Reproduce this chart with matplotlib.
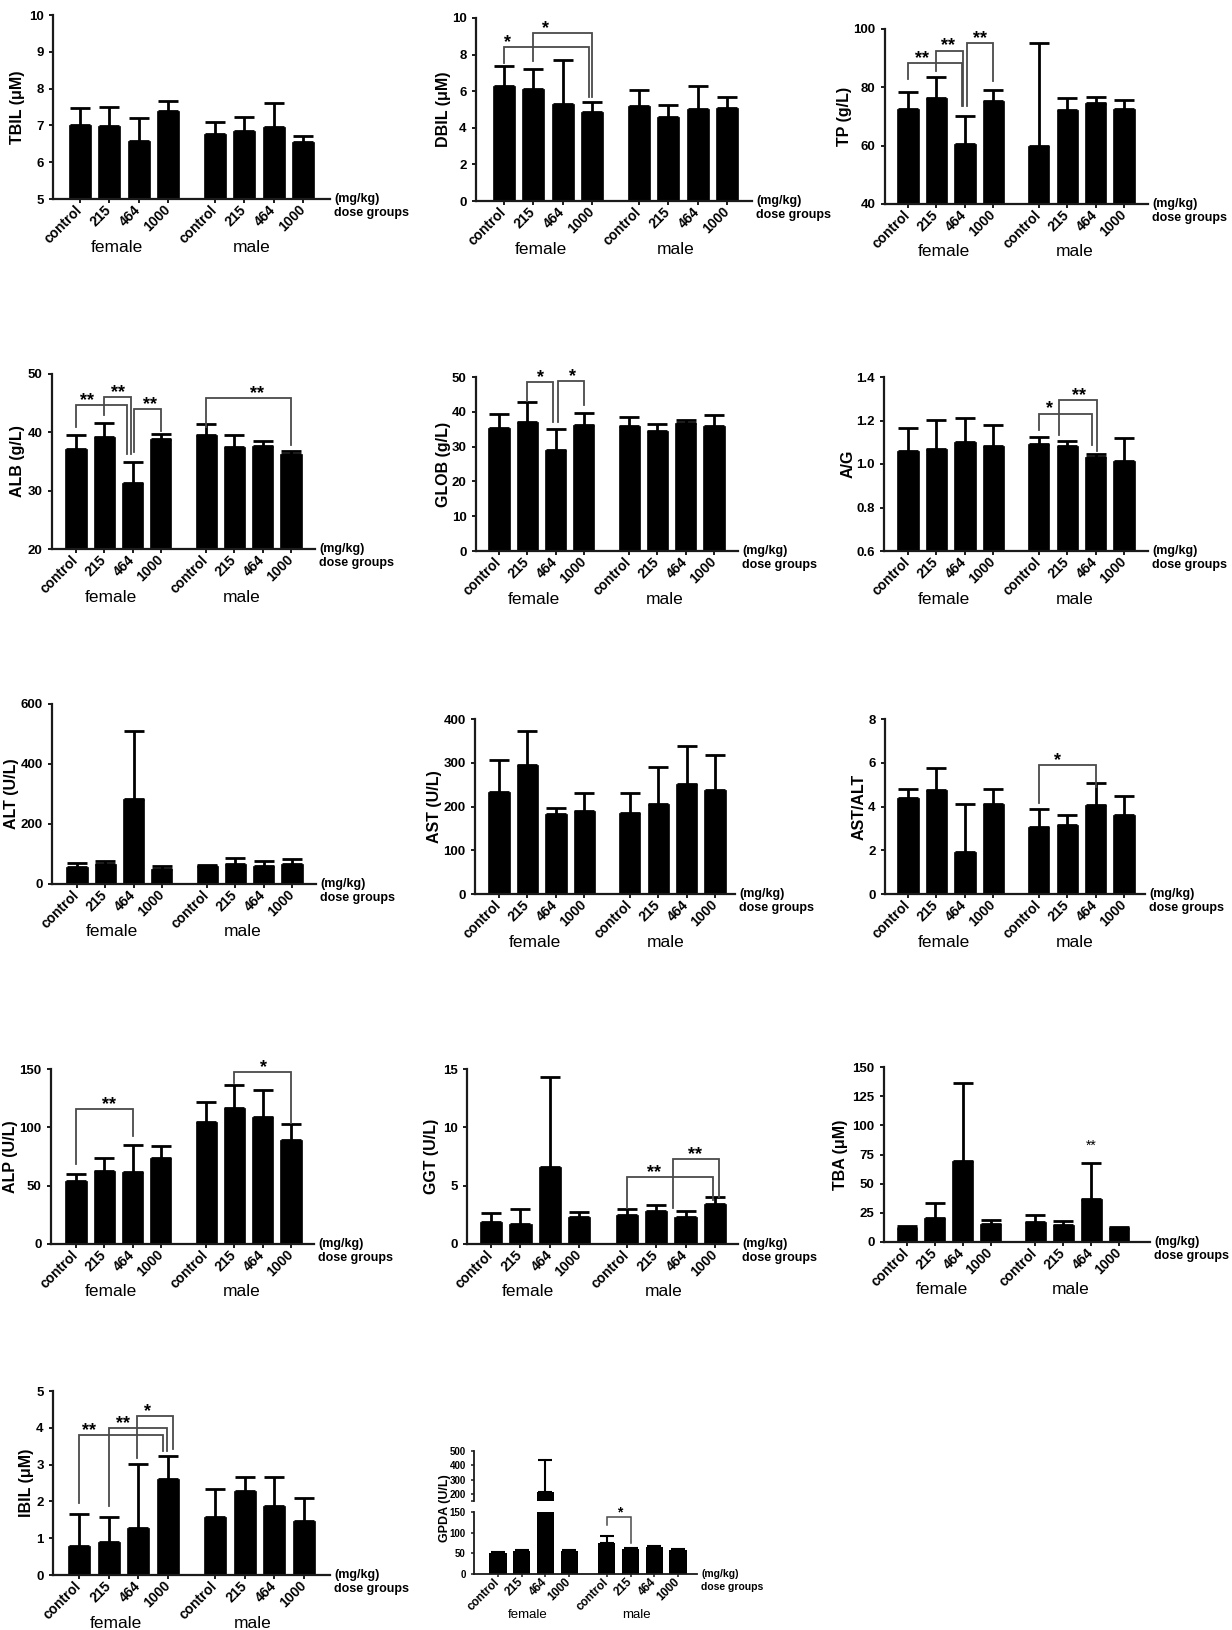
import matplotlib
matplotlib.use('Agg')
import matplotlib.pyplot as plt
import numpy as np

plt.rcParams['font.family'] = ['Liberation Sans', 'DejaVu Sans']

W, H = 1232, 1630
fig = plt.figure(figsize=(W / 100, H / 100), dpi=100)

# ---------------- data ----------------
groups = ['control', '215', '464', '1000']
sexes = ['female', 'male']
pos = [0, 1, 2, 3, 4.6, 5.6, 6.6, 7.6]

tbil_f = [7.01, 6.98, 6.58, 7.38]; tbil_f_sd = [0.46, 0.52, 0.62, 0.29]
tbil_m = [6.77, 6.84, 6.95, 6.54]; tbil_m_sd = [0.31, 0.39, 0.66, 0.16]
dbil_f = [6.26, 6.11, 5.31, 4.84]; dbil_f_sd = [1.09, 1.12, 2.41, 0.56]
dbil_m = [5.20, 4.58, 5.05, 5.09]; dbil_m_sd = [0.88, 0.69, 1.25, 0.62]
tp_f = [72.6, 76.5, 60.6, 75.3]; tp_f_sd = [5.7, 7.2, 9.7, 3.7]
tp_m = [60.0, 72.2, 74.5, 72.5]; tp_m_sd = [35.3, 4.0, 2.1, 3.2]
alb_f = [37.2, 39.2, 31.4, 38.9]; alb_f_sd = [2.3, 2.4, 3.6, 0.8]
alb_m = [39.5, 37.5, 37.7, 36.3]; alb_m_sd = [1.9, 2.0, 0.9, 0.5]
glob_f = [35.3, 37.2, 28.9, 36.3]; glob_f_sd = [4.1, 5.5, 6.2, 3.3]
glob_m = [36.0, 34.6, 36.8, 35.8]; glob_m_sd = [2.4, 2.0, 0.9, 3.4]
ag_f = [1.060, 1.071, 1.099, 1.083]; ag_f_sd = [0.106, 0.133, 0.114, 0.095]
ag_m = [1.094, 1.082, 1.030, 1.013]; ag_m_sd = [0.028, 0.023, 0.014, 0.107]
alt_f = [55.6, 65.6, 283.0, 49.0]; alt_f_sd = [13.4, 11.1, 227.0, 11.0]
alt_m = [61.0, 66.7, 61.0, 66.7]; alt_m_sd = [2.0, 21.3, 15.7, 16.3]
ast_f = [232.8, 295.4, 183.2, 190.0]; ast_f_sd = [72.5, 77.9, 13.0, 42.0]
ast_m = [184.7, 206.0, 252.0, 236.6]; ast_m_sd = [47.3, 83.3, 87.0, 81.7]
astalt_f = [4.38, 4.76, 1.91, 4.12]; astalt_f_sd = [0.41, 1.00, 2.21, 0.67]
astalt_m = [3.08, 3.16, 4.05, 3.62]; astalt_m_sd = [0.80, 0.46, 1.02, 0.88]
alp_f = [53.6, 62.2, 61.3, 74.1]; alp_f_sd = [6.3, 11.7, 23.7, 10.0]
alp_m = [104.9, 116.3, 109.2, 89.2]; alp_m_sd = [17.1, 20.0, 22.8, 13.7]
ggt_f = [1.90, 1.74, 6.64, 2.28]; ggt_f_sd = [0.75, 1.26, 7.66, 0.46]
ggt_m = [2.50, 2.85, 2.31, 3.42]; ggt_m_sd = [0.50, 0.49, 0.54, 0.58]
tba_f = [12.0, 20.9, 69.1, 15.7]; tba_f_sd = [1.4, 12.8, 67.2, 2.9]
tba_m = [17.1, 14.3, 37.1, 12.0]; tba_m_sd = [5.8, 3.4, 30.9, 0.9]
ibil_f = [0.80, 0.89, 1.27, 2.60]; ibil_f_sd = [0.85, 0.69, 1.74, 0.64]
ibil_m = [1.58, 2.28, 1.88, 1.46]; ibil_m_sd = [0.75, 0.39, 0.79, 0.64]
gpda_f = [51, 55, 215, 55]; gpda_f_sd = [2, 3, 222, 2]
gpda_m = [75, 60, 66, 58]; gpda_m_sd = [18, 2, 2, 3]

ticks_tbil = [5, 6, 7, 8, 9, 10]
ticks_dbil = [0, 2, 4, 6, 8, 10]
ticks_tp = [40, 60, 80, 100]
ticks_alb = [20, 30, 40, 50]
ticks_glob = [0, 10, 20, 30, 40, 50]
ticks_ag = [0.6, 0.8, 1.0, 1.2, 1.4]; ticklab_ag = ['0.6', '0.8', '1.0', '1.2', '1.4']
ticks_alt = [0, 200, 400, 600]
ticks_ast = [0, 100, 200, 300, 400]
ticks_astalt = [0, 2, 4, 6, 8]
ticks_alp = [0, 50, 100, 150]
ticks_ggt = [0, 5, 10, 15]
ticks_tba = [0, 25, 50, 75, 100, 125, 150]
ticks_ibil = [0, 1, 2, 3, 4, 5]
ticks_gpda_lo = [0, 50, 100, 150]
ticks_gpda_hi = [200, 300, 400, 500]

# significance brackets: (i1, i2, y_top, y_leg1, y_leg2, label, label_x, dx1, dx2)
br_dbil = [(0, 3, 8.39, 7.54, 5.7, '*', 0.13, 0.0, -0.12),
           (1, 3, 9.18, 7.63, 5.7, '*', 1.40, 0.0, 0.0)]
br_tp = [(0, 2, 88.2, 82.7, 73.6, '**', 0.49, 0.0, -0.11),
         (1, 2, 92.6, 85.7, 73.6, '**', 1.41, 0.0, -0.05),
         (2, 3, 95.3, 73.6, 82.0, '**', 2.53, 0.06, 0.0)]
br_alb = [(0, 2, 44.6, 40.9, 36.2, '**', 0.39, 0.0, -0.2),
          (1, 2, 46.0, 43.0, 36.2, '**', 1.48, 0.0, -0.07),
          (2, 3, 44.0, 36.7, 40.3, '**', 2.62, 0.05, 0.0),
          (4, 7, 45.9, 40.9, 37.9, '**', 6.40, 0.0, 0.0)]
br_glob = [(1, 2, 48.6, 43.0, 37.2, '*', 1.48, 0.0, -0.08),
           (2, 3, 48.8, 37.2, 42.0, '*', 2.59, 0.10, 0.0)]
br_ag = [(4, 6, 1.232, 1.158, 1.086, '*', 4.97, 0.0, -0.14),
         (5, 6, 1.296, 1.132, 1.059, '**', 6.00, -0.28, 0.04)]
br_astalt = [(4, 6, 5.91, 4.15, 4.9, '*', 5.27, 0.0, 0.0)]
br_alp = [(0, 2, 115.8, 68.7, 92.7, '**', 1.15, 0.0, 0.0),
          (5, 7, 147.7, 137.8, 104.0, '*', 6.64, 0.0, 0.0)]
br_ggt = [(4, 7, 5.73, 3.08, 3.8, '**', 5.52, 0.0, -0.06),
          (6, 7, 7.27, 3.08, 4.0, '**', 6.93, -0.42, 0.13)]
br_ibil = [(0, 3, 3.80, 1.97, 3.37, '**', 0.35, 0.0, -0.15),
           (1, 3, 4.00, 1.87, 3.37, '**', 1.47, 0.0, -0.04),
           (2, 3, 4.31, 3.19, 3.42, '*', 2.32, -0.05, 0.16)]
br_gpda = [(4, 5, 138, 118, 75, '*', 5.15, 0.0, 0.0)]

# ---------------- helpers ----------------
LINE = '#1a1a1a'
BR = '#4a4a4a'


def add_axes_px(l, t, r, b):
    return fig.add_axes([l / W, 1 - b / H, (r - l) / W, (b - t) / H])


def style_axes(ax, fs):
    for s in ['top', 'right']:
        ax.spines[s].set_visible(False)
    for s in ['left', 'bottom']:
        ax.spines[s].set_linewidth(1.6)
        ax.spines[s].set_color(LINE)
    ax.tick_params(axis='both', direction='out', length=3.2, width=1.4, color=LINE,
                   labelsize=fs)


def draw_bars(ax, means, sds, width, cap, lw):
    ax.bar(pos, means, width=width, color='black', edgecolor='black', linewidth=0.5, zorder=2)
    ax.errorbar(pos, means, yerr=[np.zeros(len(sds)), sds], fmt='none', ecolor='black',
                elinewidth=lw, capsize=cap, capthick=lw, zorder=3, clip_on=False)


def draw_brackets(ax, brs, fs, lw=1.3):
    for (i1, i2, yt, y1, y2, lab, sx, dx1, dx2) in brs:
        x1 = pos[i1] + dx1
        x2 = pos[i2] + dx2
        ax.plot([x1, x1, x2, x2], [y1, yt, yt, y2], color=BR, lw=lw, clip_on=False,
                zorder=4, solid_joinstyle='miter')
        ax.annotate(lab, xy=(sx, yt), xytext=(0, 0), textcoords='offset pixels',
                    ha='center', va='baseline', fontsize=fs, fontweight='bold')


def xaxis_labels(ax, fs_tick, fs_sex, fs_unit, sex_off, unit_dy, pad):
    ax.set_xticks(pos)
    ax.set_xticklabels(groups + groups, rotation=45, ha='right', va='center',
                       rotation_mode='anchor', fontsize=fs_tick, fontweight='bold')
    ax.tick_params(axis='x', pad=pad)
    fmean = np.mean(pos[:4]) - 0.25
    mmean = np.mean(pos[4:]) - 0.25
    for xm, s in [(fmean, sexes[0]), (mmean, sexes[1])]:
        ax.annotate(s, xy=(xm, 0), xycoords=('data', 'axes fraction'), xytext=(0, -sex_off),
                    textcoords='offset pixels', ha='center', va='center', fontsize=fs_sex)
    ax.annotate('(mg/kg)', xy=(1, 0), xycoords='axes fraction', xytext=(4, 0),
                textcoords='offset pixels', ha='left', va='center', fontsize=fs_unit,
                fontweight='bold')
    ax.annotate('dose groups', xy=(1, 0), xycoords='axes fraction', xytext=(4, -unit_dy),
                textcoords='offset pixels', ha='left', va='center', fontsize=fs_unit,
                fontweight='bold')


def panel(rect, bars_px, ylim, yticks, ylabel, fm, fsd, mm, msd, brs=(), ticklabels=None,
          label_px=None):
    l, t, r, b = rect
    ax = add_axes_px(l, t, r, b)
    p0, p7 = bars_px
    sp = (p7 - p0) / pos[-1]
    ax.set_xlim((l - p0) / sp, (r - p0) / sp)
    ax.set_ylim(ylim)
    style_axes(ax, 9.5)
    draw_bars(ax, fm + mm, fsd + msd, 0.75, 7.5, 2.0)
    ax.set_yticks(yticks)
    if ticklabels is not None:
        ax.set_yticklabels(ticklabels)
    for lab in ax.get_yticklabels():
        lab.set_fontweight('bold')
    ax.set_ylabel(ylabel, fontsize=11.5, fontweight='bold', labelpad=3)
    if label_px is not None:
        ax.yaxis.set_label_coords((label_px + 9 - l) / (r - l), 0.5)
    xaxis_labels(ax, 10, 12.5, 9, 48, 14, 3)
    draw_brackets(ax, brs, 13)
    return ax


# ---------------- panels ----------------
panel((53, 15, 330, 199), (80, 303), (5, 10), ticks_tbil, 'TBIL (μM)',
      tbil_f, tbil_f_sd, tbil_m, tbil_m_sd, label_px=16)
panel((476, 18, 752, 201), (504, 727), (0, 10), ticks_dbil, 'DBIL (μM)',
      dbil_f, dbil_f_sd, dbil_m, dbil_m_sd, br_dbil, label_px=442)
panel((885, 29, 1148, 204), (908, 1124), (40, 100), ticks_tp, 'TP (g/L)',
      tp_f, tp_f_sd, tp_m, tp_m_sd, br_tp, label_px=843)

panel((52, 374, 315, 549), (76, 291), (20, 50), ticks_alb, 'ALB (g/L)',
      alb_f, alb_f_sd, alb_m, alb_m_sd, br_alb, label_px=16)
panel((476, 377, 738, 551), (499, 714), (0, 50), ticks_glob, 'GLOB (g/L)',
      glob_f, glob_f_sd, glob_m, glob_m_sd, br_glob, label_px=442)
panel((884, 377, 1148, 551), (908, 1124), (0.6, 1.4), ticks_ag, 'A/G',
      ag_f, ag_f_sd, ag_m, ag_m_sd, br_ag, ticklabels=ticklab_ag, label_px=847)

panel((52, 704, 316, 884), (77, 292), (0, 600), ticks_alt, 'ALT (U/L)',
      alt_f, alt_f_sd, alt_m, alt_m_sd, label_px=10)
panel((475, 719, 735, 894), (499, 715), (0, 400), ticks_ast, 'AST (U/L)',
      ast_f, ast_f_sd, ast_m, ast_m_sd, label_px=433)
panel((885, 719, 1145, 894), (908, 1124), (0, 8), ticks_astalt, 'AST/ALT',
      astalt_f, astalt_f_sd, astalt_m, astalt_m_sd, br_astalt, label_px=858)

panel((51, 1069, 314, 1244), (76, 291), (0, 150), ticks_alp, 'ALP (U/L)',
      alp_f, alp_f_sd, alp_m, alp_m_sd, br_alp, label_px=9)
panel((467, 1069, 738, 1244), (491, 715), (0, 15), ticks_ggt, 'GGT (U/L)',
      ggt_f, ggt_f_sd, ggt_m, ggt_m_sd, br_ggt)
ax_tba = panel((884, 1067, 1150, 1242), (907, 1119), (0, 150), ticks_tba, 'TBA (μM)',
               tba_f, tba_f_sd, tba_m, tba_m_sd)
ax_tba.annotate('**', xy=(pos[6], 79), ha='center', va='baseline', fontsize=10)

panel((53, 1391, 330, 1575), (79, 304), (0, 5), ticks_ibil, 'IBIL (μM)',
      ibil_f, ibil_f_sd, ibil_m, ibil_m_sd, br_ibil, label_px=25)

# ---- GPDA broken axis ----
l, r = 474, 697
p0, p7 = 498, 678
sp = (p7 - p0) / pos[-1]
xl = ((l - p0) / sp, (r - p0) / sp)
ax_lo = add_axes_px(l, 1512, r, 1574)
ax_hi = add_axes_px(l, 1451, r, 1501)
means = gpda_f + gpda_m
sds = gpda_f_sd + gpda_m_sd
for ax, yl, yt in [(ax_lo, (0, 150), ticks_gpda_lo), (ax_hi, (150, 500), ticks_gpda_hi)]:
    ax.set_xlim(xl)
    ax.set_ylim(yl)
    style_axes(ax, 7)
    ax.spines['left'].set_linewidth(1.3)
    ax.spines['bottom'].set_linewidth(1.3)
    ax.tick_params(length=2.5, width=1.1)
    ax.bar(pos, means, width=0.72, color='black', zorder=2)
    ax.set_yticks(yt)
    for lab in ax.get_yticklabels():
        lab.set_fontweight('bold')
ax_lo.errorbar(pos, means, yerr=[np.zeros(8), sds], fmt='none', ecolor='black',
               elinewidth=1.5, capsize=5, capthick=1.5, zorder=3)
ax_hi.errorbar(pos, means, yerr=[np.zeros(8), sds], fmt='none', ecolor='black',
               elinewidth=1.5, capsize=5, capthick=1.5, zorder=3)
ax_hi.spines['bottom'].set_visible(False)
ax_hi.set_xticks([])
ax_hi.set_yticks(ticks_gpda_hi + [150])
ax_hi.set_yticklabels([str(v) for v in ticks_gpda_hi] + [''])
for lab in ax_hi.get_yticklabels():
    lab.set_fontweight('bold')
xaxis_labels(ax_lo, 8.5, 9.5, 7.5, 41, 13, 2)
draw_brackets(ax_lo, br_gpda, 10, lw=1.1)
fig.text(445 / W, 1 - 1508 / H, 'GPDA (U/L)', rotation=90, ha='center', va='center',
         fontsize=9, fontweight='bold')

fig.savefig('out.png', dpi=100, facecolor='white')
